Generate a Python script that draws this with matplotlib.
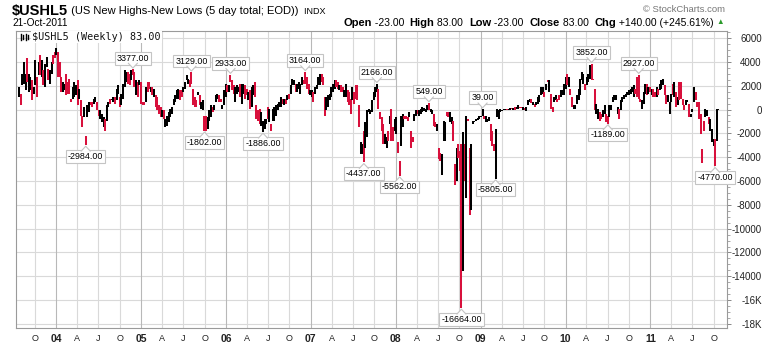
import matplotlib
matplotlib.use("Agg")
import matplotlib.pyplot as plt
import matplotlib.dates as mdates
import matplotlib.transforms as mtransforms
from matplotlib.patches import Polygon
from matplotlib.lines import Line2D
from matplotlib.ticker import MultipleLocator
import numpy as np
import pandas as pd
from datetime import datetime

plt.rcParams['font.family'] = ['Liberation Sans', 'DejaVu Sans']

# ---------------- data (weekly high / low of $USHL5, direction u=up close, d=down close) -------------
last_week = "2011-10-21"

hi_2003_05 = [1890,1330,3020,4000,3020,4290,3020,2740,2450,1890,
              4150,2740,4000,4570,4150,3300,3860,4430,3440,3300,
              4000,4570,4850,5130,4850,4000,2740,2310,2170,3020,
              2310,2590,900,1890,2310,2030,2450,1750,760,-510,
              200,-2200,340,620,620,620,900,1040,620,-80,
              -80,-370,-650,-790,340,620,900,900,1040,1040,
              1750,2030,1040,1330,2170,3300,3160,3160,3020,3300,
              3377,3160,2450,2310,2450,2310,620,620,1890,2310,
              2310,1890,1890,1750,1180,1040,340,200,-80,-80,
              -790,-510,-230,60,200,900,1180,1610,1750,1610,
              1610,1890,2310,2900,2590,2450,3129,1750,1040,760,
              1470]
lo_2003_05 = [1040,340,2030,2170,1610,2310,1470,1610,760,1330,
              2030,1040,2880,2880,2740,2030,1890,3580,2450,2170,
              3020,3860,4290,4570,2740,2740,1470,1470,1610,1180,
              1330,1330,620,900,1040,1180,340,900,-510,-1490,
              -650,-2984,-650,-230,340,200,480,620,-80,-510,
              -790,-1070,-1490,-1780,-930,200,480,760,620,480,
              760,1330,200,340,900,1890,2310,2170,2030,2450,
              2880,1890,1180,1040,2030,480,340,340,620,1470,
              1750,1470,1180,1040,200,-80,-370,-650,-650,-790,
              -1490,-1350,-1070,-650,-370,340,620,900,900,760,
              1040,1470,1750,2450,2170,1890,2170,340,200,200,
              1180]
dir_2003_05 = ("uduuuduudu" "udududuudu" "udduddduud" "ddduuududd" "uduudduudd"
               "uuuduuduud" "uuduuuuddu" "ddududddud" "dududdddud" "uuuuuuuuud"
               "duuuuddddd" "u")

hi_2005_07 = [1180,620,760,-510,-510,-650,-80,340,200,340,
              1180,1330,1180,900,340,1610,2170,2030,2030,2933,
              2450,2030,1890,2030,1890,2170,2170,2170,2030,1750,
              1470,1610,1890,2030,2310,340,-80,60,-230,-930,
              -790,-790,200,60,-1210,60,200,340,480,620,
              1040,900,900,900,1180,1330,2030,2590,2450,2170,
              2170,2310,2170,2740,2450,3164,2740,2170,1610,1610,
              1470,1890,2030,2740,3020,3020,2740,1040,1040,1180,
              1330,1890,2170,2450,2450,2310,2030,2030,1890,1610,
              2170,1610,1470,900,1890,1470,2030,2030,340,-2760,
              -2900,-1780,-1070,-80,60,-80,760,1470,1890,2166]
lo_2005_07 = [340,60,-80,-1802,-1780,-1640,-930,-650,-230,-80,
              620,900,620,620,60,340,1040,1470,1470,2310,
              1610,1330,620,1330,1470,1040,480,1330,900,1180,
              760,60,200,1180,1040,-790,-930,-1210,-1350,-1886,
              -1640,-1210,-790,-1070,-1780,-930,-930,-510,-80,200,
              200,480,340,480,760,900,1330,2030,2030,1470,
              1470,1750,1330,2030,2170,2170,1750,1330,1180,1040,
              620,1330,1750,2030,2030,2310,2030,-510,-80,200,
              760,1040,1470,1750,1890,1750,1610,1470,1470,1040,
              1040,620,340,-370,760,480,900,760,-1490,-3750,
              -3750,-4437,-3190,-2340,-230,-370,-230,760,1040,1470]
dir_2005_07 = ("duudduuudu" "uudduuudud" "dduuuduudd" "uduudddduu" "uududuuuuu"
               "udududuuud" "uuuudddduu" "duuuuddduu" "uuuudduddu" "uddduddddu"
               "uduuuuuuuu")

hi_2007_09 = [1750,-230,-650,-1210,-2060,-2340,-1780,-510,60,-1490,
              -790,-650,-2760,-4310,-510,-370,-510,-510,-650,-230,
              -1780,-2340,-370,-80,-80,-80,60,200,140,60,
              340,549,60,-80,-370,-1070,-1210,-3190,-3610,-3750,
              -930,-1070,-230,-230,-230,-650,-930,-4600,-3190,-2900,
              -3470,-2900,-1920,-2900,-510,-790,-3190,-2900,-930,-930,
              -790,-700,-510,-510,39,-510,-510,-790,-650,-1210,
              -1780,-2900,-1640,20,-80,30,0,30,30,60,
              60,110,140,140,200,200,340,250,250,250,
              140,250,760,900,900,620,480,620,1040,1180,
              1890,1890,1470,2170,2450,2450,1330,200,1040,1180]
lo_2007_09 = [60,-790,-1780,-2900,-2900,-3190,-2620,-1210,-2620,-2620,
              -1780,-2060,-3610,-5562,-3050,-1490,-790,-790,-930,-650,
              -3190,-2760,-930,-510,-370,-510,-370,-230,-140,-230,
              -80,-80,-230,-370,-1350,-1490,-1780,-4170,-4310,-5500,
              -2620,-2620,-510,-650,-1070,-1210,-2620,-6300,-6000,-4030,
              -5160,-16664,-13560,-6000,-7400,-930,-8830,-8420,-1210,-1070,
              -930,-870,-790,-650,-510,-790,-1070,-1070,-930,-2620,
              -3050,-3470,-5805,-650,-790,-230,-140,-80,-80,-30,
              -80,-30,30,0,-30,30,60,110,140,-80,
              -80,-140,340,620,540,340,250,340,480,620,
              1180,1330,1040,1610,2310,1470,60,-230,620,760]
dir_2007_09 = ("dddduududd" "uudduudddu" "dduuduuuuu" "uduudduddu" "uudduuddud"
               "ddududduuu" "uuuuuduuud" "dduuuuuuud" "uududuuddu" "duuududuuu"
               "uudududduu")

hi_2009_11 = [900,1180,1610,1610,2170,2740,3020,2740,1750,1040,
              340,340,1180,1750,2590,3160,3020,2170,2740,3020,
              3700,3852,2590,1750,480,60,-230,-370,-80,340,
              -370,-510,340,340,1040,1180,1180,200,60,760,
              1040,1180,1330,1470,1610,1750,1890,2030,1750,2740,
              2927,900,760,1470,2170,2170,1890,1890,1750,1750,
              1470,1890,1750,2170,2450,2590,2030,1180,1180,620,
              1330,2170,2310,1470,1040,2310,2310,900,340,760,
              760,480,-370,60,1890,1470,620,620,-370,-3330,
              -930,60,-80,-650,-790,-1640,-2480,-2480,60,83]
lo_2009_11 = [620,760,1040,1180,1180,1750,2030,1890,1180,200,
              60,60,480,760,1180,2450,2170,1610,2030,2310,
              2590,2450,2450,-80,-370,-790,-930,-790,-650,-370,
              -1070,-1189,-650,-80,620,760,760,-370,-790,-80,
              620,900,1040,1180,1180,1330,1470,1040,1330,1040,
              900,620,60,480,1330,1180,1330,1470,1180,1040,
              1040,1040,1180,1610,1750,2030,1180,480,620,-370,
              620,1180,1040,200,340,760,900,340,-80,340,
              620,-650,-650,-230,620,760,200,-790,-2060,-4450,
              -1780,-650,-510,-1210,-1780,-2760,-3050,-4770,-2620,-23]
dir_2009_11 = ("dduuuududd" "uuuuuuuduu" "uddduudduu" "dduuuuuudu" "uuuuuuuudd"
               "dduuududud" "duduuudduu" "udududdddu" "uduuuddddd" "duuduuuduu")

peak_labels = [3377, 3129, 2933, 3164, 2166, 549, 39, 3852, 2927]
trough_labels = [-2984, -1802, -1886, -4437, -5562, -16664, -5805, -1189, -4770]

y_ticks = list(range(-18000, 6001, 2000))
quarter_letters = {1: None, 4: "A", 7: "J", 10: "O"}

# ---------------- assemble ----------------
highs = np.array(hi_2003_05 + hi_2005_07 + hi_2007_09 + hi_2009_11, float)
lows = np.array(lo_2003_05 + lo_2005_07 + lo_2007_09 + lo_2009_11, float)
dirs = dir_2003_05 + dir_2005_07 + dir_2007_09 + dir_2009_11
assert len(highs) == len(lows) == len(dirs), (len(highs), len(lows), len(dirs))
dates = pd.date_range(end=last_week, periods=len(highs), freq="W-FRI")
xd = mdates.date2num(dates.to_pydatetime())

RED = "#d8103c"
cols = [RED if d == "d" else "black" for d in dirs]

W, H = 780, 345
fig = plt.figure(figsize=(W / 100, H / 100), dpi=100)
fig.patch.set_facecolor("white")
L, R, T, B = 16, 727, 31, 328
ax = fig.add_axes([L / W, 1 - B / H, (R - L) / W, (B - T) / H])

ax.set_xlim(mdates.date2num(datetime(2003, 7, 12)), mdates.date2num(datetime(2011, 11, 27)))
ax.set_ylim(-18340, 6590)

# grid
for v in y_ticks:
    ax.axhline(v, color="#d9d9d9", lw=0.8, zorder=1)
qdates = pd.date_range("2003-10-01", "2011-10-01", freq="QS-JAN")
for d in qdates:
    ax.axvline(mdates.date2num(d.to_pydatetime()), color="#b8b8b8" if d.month == 1 else "#d9d9d9",
               lw=0.8, zorder=1)

ax.vlines(xd, lows, highs, colors=cols, linewidth=1.45, zorder=3)

# y axis on right
ax.yaxis.tick_right()
ax.set_yticks(y_ticks)
ax.set_yticklabels([("%dK" % (v // 1000)) if v <= -16000 else str(v) for v in y_ticks])
ax.yaxis.set_minor_locator(MultipleLocator(500))
ax.tick_params(axis="y", which="major", length=3, width=0.7, color="#888888", pad=22,
               labelsize=7, labelcolor="#222222")
ax.tick_params(axis="y", which="minor", length=2, width=0.6, color="#999999")
for lab in ax.get_yticklabels():
    lab.set_ha("right")

# x axis
xt, xl = [], []
for d in qdates:
    xt.append(mdates.date2num(d.to_pydatetime()))
    xl.append(d.strftime("%y") if d.month == 1 else quarter_letters[d.month])
ax.set_xticks(xt)
ax.set_xticklabels(xl)
ax.tick_params(axis="x", length=0, pad=4, labelsize=6.5, labelcolor="#222222")
for lab in ax.get_xticklabels():
    if lab.get_text().isdigit():
        lab.set_fontweight("bold")
        lab.set_fontsize(7.5)

for s in ax.spines.values():
    s.set_color("#9a9a9a")
    s.set_linewidth(0.8)

# value call-outs
def callout(xv, yv, s):
    trans = fig.dpi_scale_trans + mtransforms.ScaledTranslation(xv, yv, ax.transData)
    gap, tip, half = 0.06, 0.012, 0.045
    ax.text(0, s * (gap + 0.052), "%.2f" % yv, transform=trans, ha="center", va="center",
            fontsize=6.4, color="black", zorder=6, clip_on=False,
            bbox=dict(boxstyle="square,pad=0.22", fc="white", ec="#c4c4c4", lw=0.8))
    ax.add_patch(Polygon([(-half, s * (gap + 0.004)), (0, s * tip), (half, s * (gap + 0.004))],
                         closed=True, fc="white", ec="none", transform=trans, zorder=7, clip_on=False))
    ax.add_line(Line2D([-half, 0, half], [s * gap, s * tip, s * gap], color="#c4c4c4", lw=0.8,
                       transform=trans, zorder=8, clip_on=False))

for v in peak_labels:
    i = int(np.where(highs == v)[0][0])
    callout(xd[i], highs[i], 1)
for v in trough_labels:
    i = int(np.where(lows == v)[0][0])
    callout(xd[i], lows[i], -1)

# in-chart legend
fig.text(32 / W, 1 - 37 / H, "$USHL5 (Weekly) 83.00", family="DejaVu Sans Mono", fontsize=7.3,
         va="center", ha="left", color="#111111",
         bbox=dict(boxstyle="square,pad=0.1", fc="white", ec="none"), zorder=10)
for xx, y0, y1, c in [(20.5, 34, 40, "black"), (23, 35, 39, "black"), (25.5, 34, 40, "black"),
                      (28, 35, 39, "black")]:
    fig.add_artist(Line2D([xx / W, xx / W], [1 - y1 / H, 1 - y0 / H], color=c, lw=1.0))

# header
renderer = fig.canvas.get_renderer()

def seq(parts, x0, y, align="left"):
    arts = []
    x = x0
    for s, kw in parts:
        t = fig.text(x / W, 1 - y / H, s, va="center", ha="left", **kw)
        bb = t.get_window_extent(renderer)
        x = bb.x1
        arts.append(t)
    if align == "right":
        shift = x0 - x
        total = x - x0
        for t in arts:
            px, py = t.get_position()
            t.set_position((px - total / W, py))
    return arts

seq([("$USHL5", dict(fontsize=10.5, fontweight="bold")),
     (" (US New Highs-New Lows (5 day total; EOD))", dict(fontsize=8)),
     ("  INDX", dict(fontsize=6.5))], 12, 11)
fig.text(12 / W, 1 - 23 / H, "21-Oct-2011", fontsize=7.3, va="center", ha="left")
seq([("Open", dict(fontsize=8, fontweight="bold")), (" -23.00  ", dict(fontsize=7.5)),
     ("High", dict(fontsize=8, fontweight="bold")), (" 83.00  ", dict(fontsize=7.5)),
     ("Low", dict(fontsize=8, fontweight="bold")), (" -23.00  ", dict(fontsize=7.5)),
     ("Close", dict(fontsize=8, fontweight="bold")), (" 83.00  ", dict(fontsize=7.5)),
     ("Chg", dict(fontsize=8, fontweight="bold")), (" +140.00 (+245.61%) ", dict(fontsize=7.5)),
     ("\u25b2", dict(fontsize=5.5, color="#2a9a2a"))], 724, 23, align="right")
fig.text(725 / W, 1 - 9 / H, "\u00a9 StockCharts.com", fontsize=6.8, color="#777777",
         va="center", ha="right")

fig.savefig("out.png", dpi=100, facecolor="white")
